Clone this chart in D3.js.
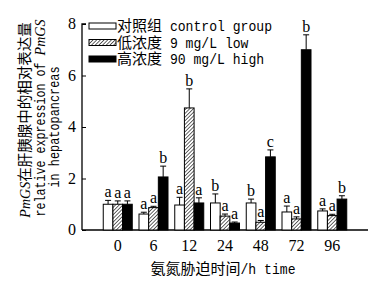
<!DOCTYPE html>
<html>
<head>
<meta charset="utf-8">
<script src="https://cdn.jsdelivr.net/npm/d3@7"></script>
<style>
  body { margin: 0; background: #fff; }
  svg { display: block; }
  .tick-label, .sig { font-family: "Liberation Serif", "DejaVu Serif", serif; }
  .mixed { font-family: "Liberation Mono", "Noto Sans CJK SC", monospace; }
</style>
</head>
<body>
<div id="chart"></div>
<script>
// Relative PmGS expression in hepatopancreas under ammonia stress
const categories = ["0", "6", "12", "24", "48", "72", "96"];
const seriesNames = ["对照组 control group", "低浓度 9 mg/L low", "高浓度 90 mg/L high"];
const controlVals = [1.0, 0.62, 0.97, 1.05, 1.05, 0.70, 0.74];
const controlErr  = [0.15, 0.07, 0.30, 0.35, 0.15, 0.23, 0.08];
const controlSig  = ["a", "a", "a", "b", "b", "a", "a"];
const lowVals = [1.0, 0.87, 4.74, 0.54, 0.30, 0.43, 0.56];
const lowErr  = [0.13, 0.05, 0.74, 0.08, 0.07, 0.08, 0.05];
const lowSig  = ["a", "a", "b", "a", "a", "a", "a"];
const highVals = [1.0, 2.06, 1.05, 0.27, 2.84, 7.0, 1.2];
const highErr  = [0.13, 0.42, 0.20, 0.04, 0.27, 0.58, 0.13];
const highSig  = ["a", "b", "a", "a", "c", "b", "b"];
const yTicks = [0, 2, 4, 6, 8];

const width = 384, height = 287;
const x0 = 82, x1 = 368, yBase = 230, yTop = 24;

const series = [
  { key: "control", vals: controlVals, err: controlErr, sig: controlSig, fill: "#fff" },
  { key: "low", vals: lowVals, err: lowErr, sig: lowSig, fill: "url(#hatch)" },
  { key: "high", vals: highVals, err: highErr, sig: highSig, fill: "#000" }
];

// Split a label into CJK / latin runs. The original uses a SimSun-like face
// with half-width latin, so latin runs are squeezed to a fixed advance.
function mixedText(sel, str, cjkSize, latinSize, latinAdv) {
  str.split(/([\u3000-\u9fff]+)/).filter((s) => s.length).forEach((part) => {
    const cjk = /[\u3000-\u9fff]/.test(part);
    const t = sel.append("tspan").attr("font-size", cjk ? cjkSize : latinSize)
      .attr("xml:space", "preserve").text(part);
    if (!cjk) t.attr("textLength", part.length * latinAdv).attr("lengthAdjust", "spacingAndGlyphs");
  });
  return sel;
}

const svg = d3.select("#chart").append("svg")
  .attr("width", width).attr("height", height);

const defs = svg.append("defs");
const pat = defs.append("pattern").attr("id", "hatch")
  .attr("patternUnits", "userSpaceOnUse").attr("width", 2.6).attr("height", 2.6)
  .attr("patternTransform", "rotate(45)");
pat.append("rect").attr("width", 2.6).attr("height", 2.6).attr("fill", "#fff");
pat.append("line").attr("x1", 0).attr("x2", 0).attr("y1", 0).attr("y2", 2.6)
  .attr("stroke", "#333").attr("stroke-width", 1.5);

const x = d3.scalePoint(categories, [x0, x1]).padding(1);
const xs = d3.scaleBand(series.map((s) => s.key), [-14.5, 14.5]).padding(0);
const y = d3.scaleLinear([0, 8], [yBase, yTop]);

// axes
svg.append("g").attr("transform", `translate(${x0},0)`)
  .call(d3.axisRight(y).tickValues(yTicks).tickSize(4).tickFormat(""))
  .call((g) => g.select(".domain").attr("stroke-width", 1.3).attr("d", `M4,${yTop}H0V${yBase}`));
svg.selectAll(".ylab").data(yTicks).join("text").attr("class", "tick-label")
  .attr("x", 76).attr("y", (d) => y(d) + 5).attr("text-anchor", "end")
  .attr("font-size", 16).text((d) => d);

svg.append("line").attr("x1", x0).attr("x2", x1).attr("y1", yBase).attr("y2", yBase)
  .attr("stroke", "#000").attr("stroke-width", 1.5);

svg.selectAll(".xlab").data(categories).join("text").attr("class", "tick-label")
  .attr("x", (d) => x(d)).attr("y", 251).attr("text-anchor", "middle")
  .attr("font-size", 16).text((d) => d);

// bars
series.forEach((s) => {
  const g = svg.append("g");
  const bx = (i) => x(categories[i]) + xs(s.key);
  const bw = xs.bandwidth();
  g.selectAll("line.err").data(s.vals).join("line").attr("class", "err")
    .attr("x1", (d, i) => bx(i) + bw / 2).attr("x2", (d, i) => bx(i) + bw / 2)
    .attr("y1", (d) => y(d)).attr("y2", (d, i) => y(d + s.err[i]))
    .attr("stroke", "#000").attr("stroke-width", 1);
  g.selectAll("line.cap").data(s.vals).join("line").attr("class", "cap")
    .attr("x1", (d, i) => bx(i) + bw / 2 - 3).attr("x2", (d, i) => bx(i) + bw / 2 + 3)
    .attr("y1", (d, i) => y(d + s.err[i])).attr("y2", (d, i) => y(d + s.err[i]))
    .attr("stroke", "#000").attr("stroke-width", 1);
  g.selectAll("rect").data(s.vals).join("rect")
    .attr("x", (d, i) => bx(i)).attr("width", bw)
    .attr("y", (d) => y(d)).attr("height", (d) => yBase - y(d))
    .attr("fill", s.fill).attr("stroke", "#000").attr("stroke-width", 1);
  g.selectAll("text").data(s.vals).join("text").attr("class", "sig")
    .attr("x", (d, i) => bx(i) + bw / 2).attr("y", (d, i) => y(d + s.err[i]) - 3)
    .attr("text-anchor", "middle").attr("font-size", 16).text((d, i) => s.sig[i]);
});

// legend
const legend = svg.append("g");
series.forEach((s, i) => {
  const ly = 26 + i * 16.5;
  legend.append("rect").attr("x", 89).attr("y", ly - 3).attr("width", 27).attr("height", 6)
    .attr("fill", s.fill).attr("stroke", "#000").attr("stroke-width", 1);
  mixedText(legend.append("text").attr("class", "mixed").attr("x", 117).attr("y", ly + 5),
    seriesNames[i], 15, 14.5, 7.86);
});

// y axis title: three rotated lines
const yt = svg.append("text").attr("class", "mixed")
  .attr("text-anchor", "middle").attr("transform", "rotate(-90)");
const l1 = yt.append("tspan").attr("x", -120).attr("y", 30);
l1.append("tspan").attr("font-style", "italic").attr("font-size", 14)
  .attr("font-family", "Liberation Serif, serif").text("PmGS");
l1.append("tspan").attr("font-size", 14.5).text("在肝胰腺中的相对表达量");
const l2 = yt.append("tspan").attr("x", -118).attr("y", 44.5).attr("font-size", 14);
l2.append("tspan").attr("xml:space", "preserve")
  .attr("textLength", 161).attr("lengthAdjust", "spacingAndGlyphs").text("relative expression of ");
l2.append("tspan").attr("font-style", "italic").attr("font-size", 14)
  .attr("font-family", "Liberation Serif, serif").text("PmGS");
yt.append("tspan").attr("x", -127).attr("y", 59).attr("font-size", 14)
  .attr("textLength", 121).attr("lengthAdjust", "spacingAndGlyphs").text("in hepatopancreas");

mixedText(svg.append("text").attr("class", "mixed").attr("x", 223).attr("y", 274)
  .attr("text-anchor", "middle"), "氨氮胁迫时间/h time", 15, 14.5, 7.86);
</script>
</body>
</html>
